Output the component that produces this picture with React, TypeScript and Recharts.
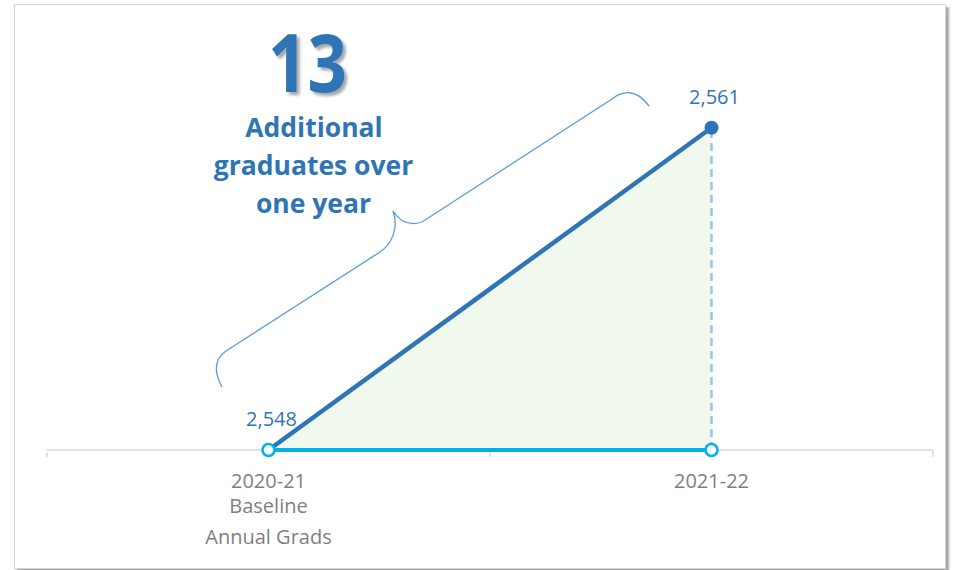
import React from 'react';
import { ComposedChart, Line, Area, XAxis, YAxis, ReferenceLine, LabelList } from 'recharts';

const categories = ['2020-21', '2021-22'];
const categorySubLabels: string[][] = [['Baseline', 'Annual Grads'], []];
const graduates = [2548, 2561];
const baseline = [2548, 2548];
const yDomain: [number, number] = [2548, 2562];

const BLUE = '#2e75b6';
const CYAN = '#00b0f0';
const FILL = '#f1f8ee';
const DASH = '#9dc3e6';
const AXIS = '#d9d9d9';
const GRAY = '#7f7f7f';
const BRACE = '#5b9bd5';
const FONT = '"Open Sans", "Noto Sans", sans-serif';

const data = categories.map((c, i) => ({ category: c, value: graduates[i], base: baseline[i] }));
const added = graduates[graduates.length - 1] - graduates[0];

const CategoryTick = (props: any) => {
  const { x, y, payload, width } = props;
  const idx = categories.indexOf(payload.value);
  const lines = [payload.value, ...(categorySubLabels[idx] || [])];
  const dys = [38, 63, 94];
  const half = (width || 886) / (2 * categories.length);
  return (
    <g>
      <line x1={x - half} x2={x - half} y1={y + 2.5} y2={y + 7} stroke={AXIS} strokeWidth={1.5} />
      {idx === categories.length - 1 && (
        <line x1={x + half} x2={x + half} y1={y} y2={y + 7} stroke={AXIS} strokeWidth={1.5} />
      )}
      {lines.map((t: string, i: number) => (
        <text key={i} x={x} y={y + dys[i]} textAnchor="middle" fill={GRAY} fontSize={20} fontFamily={FONT}>
          {t}
        </text>
      ))}
    </g>
  );
};

const BlueDot = (props: any) => {
  const { cx, cy, index } = props;
  if (index !== graduates.length - 1) return <g key={`bd-${index}`} />;
  return <circle key={`bd-${index}`} cx={cx} cy={cy} r={7} fill={BLUE} />;
};

const OpenDot = (props: any) => {
  const { cx, cy, index } = props;
  return <circle key={`od-${index}`} cx={cx} cy={cy} r={6} fill="#ffffff" stroke={CYAN} strokeWidth={2.5} />;
};

const ValueLabel = (props: any) => {
  const { x, y, value } = props;
  return (
    <text x={x + 3} y={y - 24} textAnchor="middle" fill={BLUE} fontSize={20} fontFamily={FONT}>
      {Number(value).toLocaleString('en-US')}
    </text>
  );
};

export default function App() {
  return (
    <div style={{ position: 'absolute', left: 0, top: 0, width: 955, height: 570, background: '#ffffff' }}>
      <div
        style={{
          position: 'absolute',
          left: 14,
          top: 4,
          width: 930,
          height: 563,
          border: '1px solid #d4d4d4',
          boxShadow: '3px 3px 2px rgba(0,0,0,0.35)',
          background: '#ffffff',
        }}
      />
      <div style={{ position: 'absolute', left: 0, top: 0 }}>
        <ComposedChart width={955} height={570} data={data} margin={{ top: 103, right: 22, bottom: 20, left: 47 }}>
          <XAxis
            dataKey="category"
            type="category"
            padding={{ left: 221.5, right: 221.5 }}
            axisLine={false}
            tickLine={false}
            tickSize={0}
            tickMargin={0}
            interval={0}
            height={100}
            tick={<CategoryTick />}
          />
          <YAxis hide domain={yDomain} type="number" />
          <ReferenceLine y={yDomain[0]} stroke={AXIS} strokeWidth={1.5} />
          <Area
            dataKey="value"
            type="linear"
            stroke="none"
            fill={FILL}
            fillOpacity={1}
            baseValue="dataMin"
            dot={false}
            activeDot={false}
            isAnimationActive={false}
          />
          <ReferenceLine
            segment={[
              { x: categories[1], y: baseline[1] },
              { x: categories[1], y: graduates[1] },
            ]}
            stroke={DASH}
            strokeWidth={2.5}
            strokeDasharray="8 5"
          />
          <Line
            dataKey="value"
            type="linear"
            stroke={BLUE}
            strokeWidth={4.5}
            dot={BlueDot}
            activeDot={false}
            isAnimationActive={false}
          >
            <LabelList dataKey="value" content={ValueLabel} />
          </Line>
          <Line
            dataKey="base"
            type="linear"
            stroke={CYAN}
            strokeWidth={4}
            dot={OpenDot}
            activeDot={false}
            isAnimationActive={false}
          />
        </ComposedChart>
      </div>
      <svg width={955} height={570} style={{ position: 'absolute', left: 0, top: 0, pointerEvents: 'none' }}>
        <defs>
          <filter id="numShadow" x="-20%" y="-20%" width="150%" height="150%">
            <feDropShadow dx={3} dy={3} stdDeviation={1.8} floodColor="#000000" floodOpacity={0.35} />
          </filter>
        </defs>
        <path
          d="M 222 387 C 215 374, 213 360, 226 351 L 380 252 C 392 244, 399 228, 393 211 C 400 222, 410 226, 422 222 L 612 99 C 622 91, 636 88, 649 106"
          fill="none"
          stroke={BRACE}
          strokeWidth={1.3}
        />
        <text
          x={307.5}
          y={92}
          textAnchor="middle"
          fill={BLUE}
          fontSize={80}
          fontWeight={700}
          fontFamily={FONT}
          textLength={79}
          lengthAdjust="spacingAndGlyphs"
          filter="url(#numShadow)"
        >
          {added}
        </text>
        <text x={314} y={137} textAnchor="middle" fill={BLUE} fontSize={26.5} fontWeight={700} fontFamily={FONT}>
          Additional
        </text>
        <text x={313.5} y={175} textAnchor="middle" fill={BLUE} fontSize={26.5} fontWeight={700} fontFamily={FONT}>
          graduates over
        </text>
        <text x={313.5} y={213} textAnchor="middle" fill={BLUE} fontSize={26.5} fontWeight={700} fontFamily={FONT}>
          one year
        </text>
      </svg>
    </div>
  );
}
